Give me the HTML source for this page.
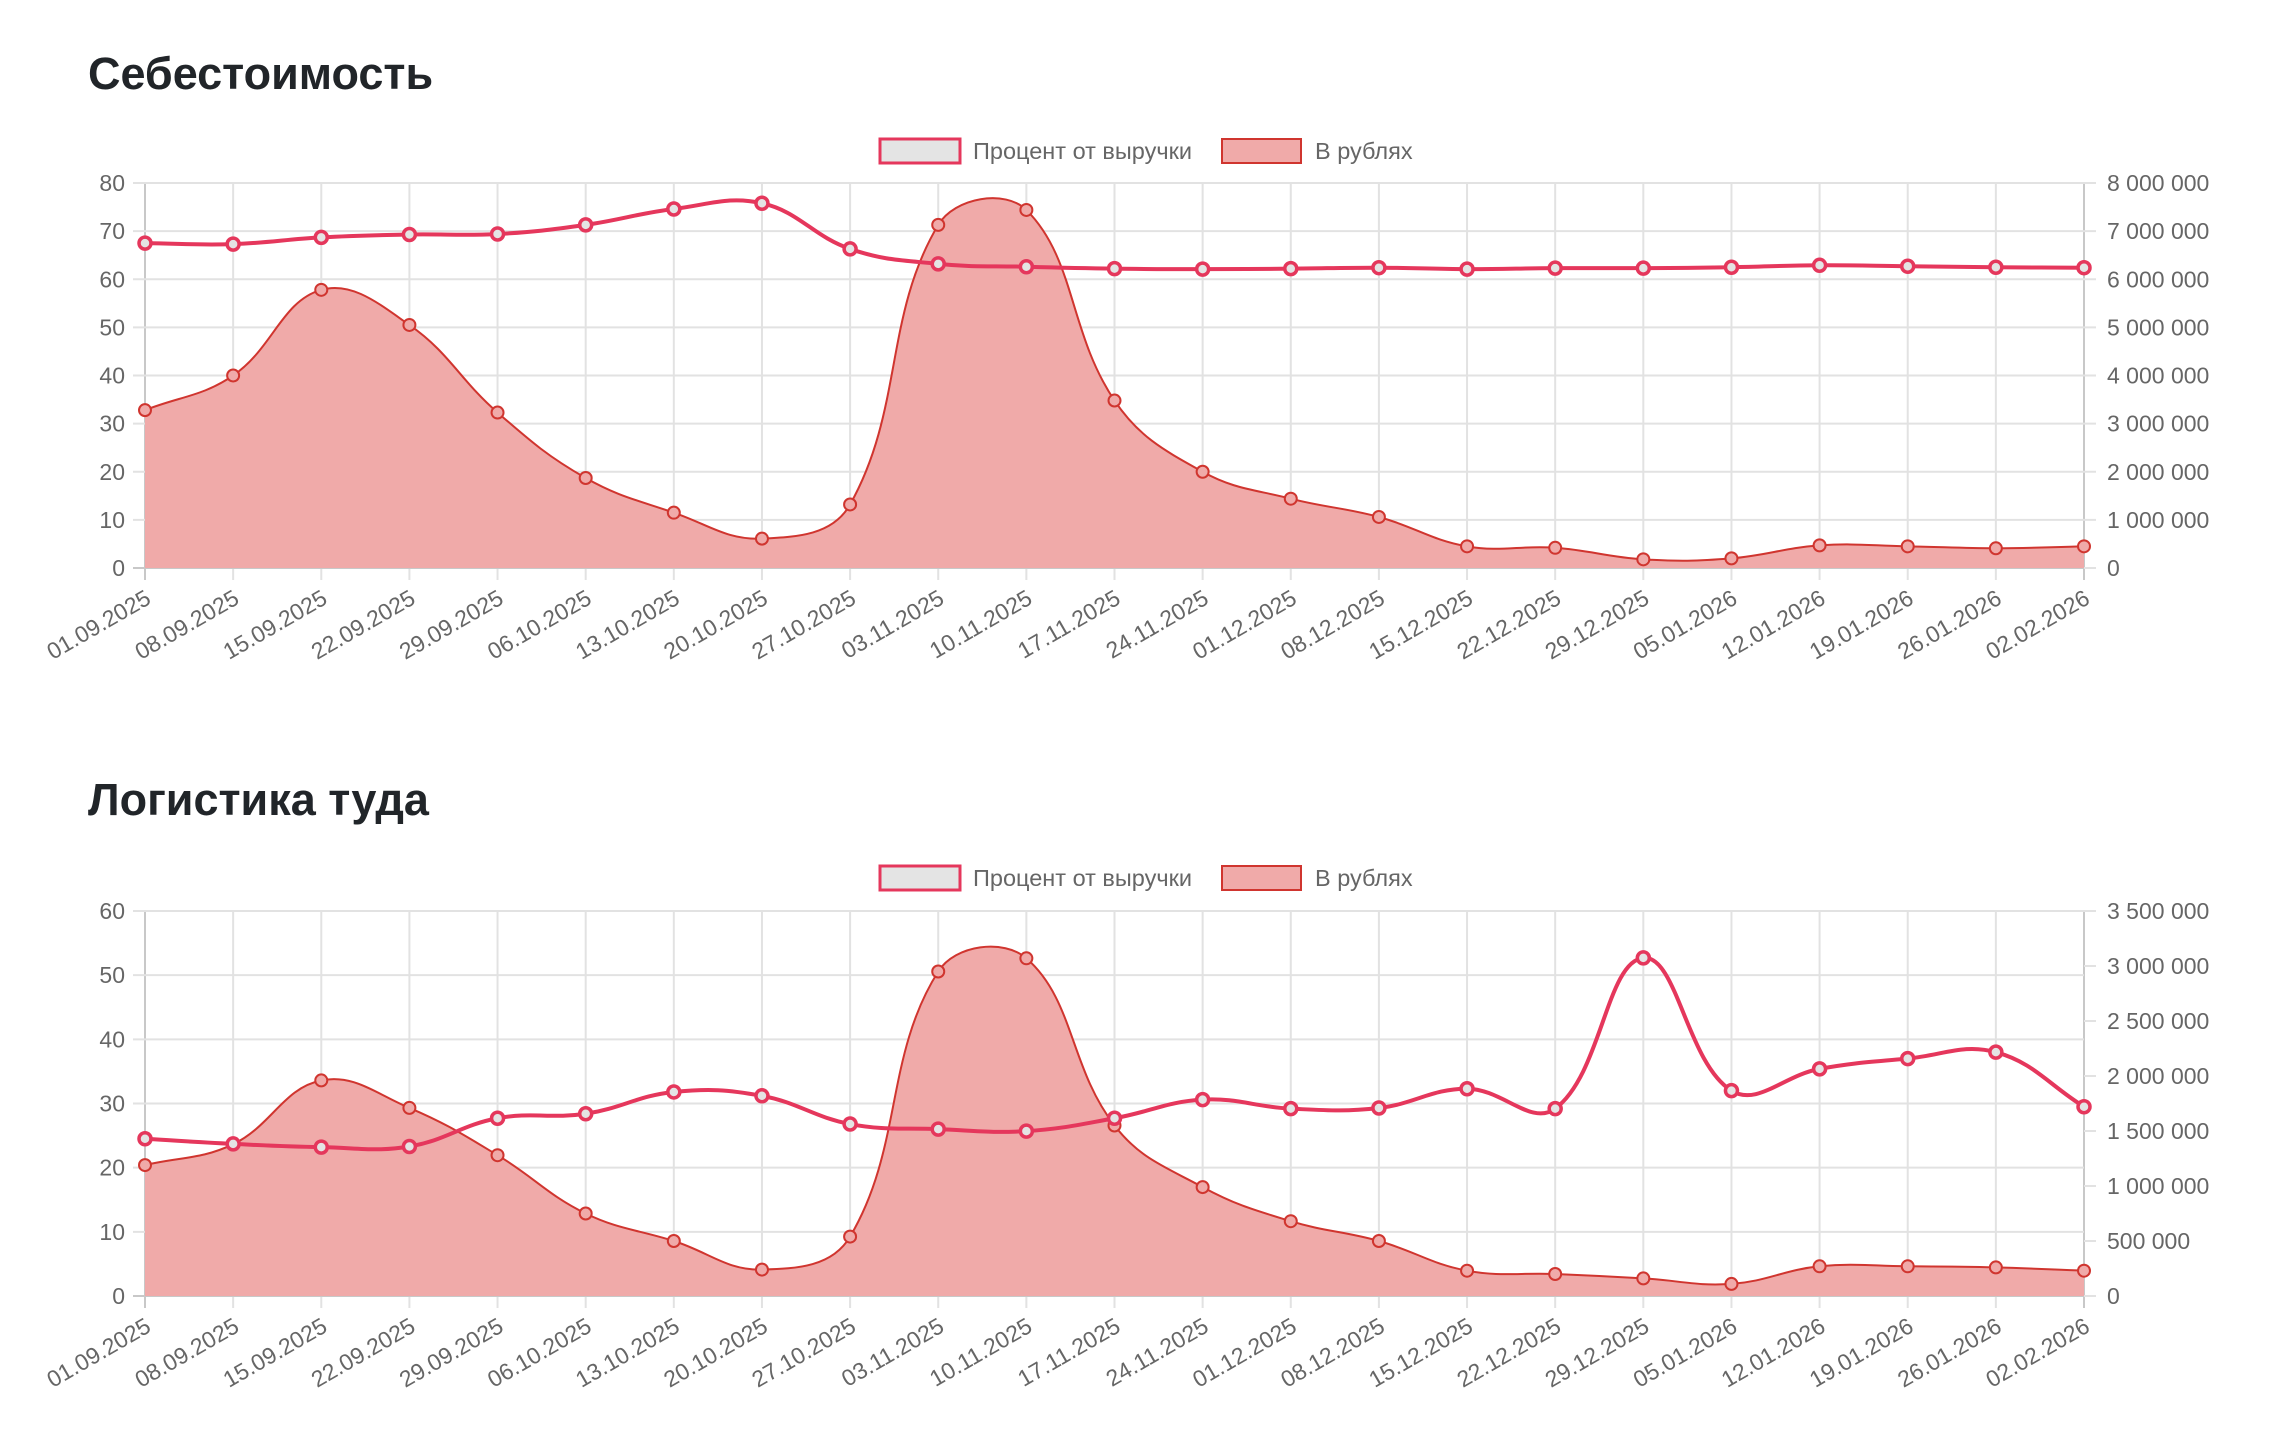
<!DOCTYPE html>
<html><head><meta charset="utf-8">
<style>
html,body{margin:0;padding:0;background:#fff;}
body{width:2280px;height:1444px;overflow:hidden;position:relative;font-family:"Liberation Sans",Arial,sans-serif;}
h2{position:absolute;left:88px;margin:0;font-weight:600;font-size:45px;color:#212529;line-height:1;}
svg{position:absolute;left:0;top:0;}
</style></head>
<body>
<h2 style="top:51px">Себестоимость</h2>
<h2 style="top:777px">Логистика туда</h2>
<svg id="s" width="2280" height="1444" xmlns="http://www.w3.org/2000/svg"></svg>
<script>
const dates=["01.09.2025","08.09.2025","15.09.2025","22.09.2025","29.09.2025","06.10.2025","13.10.2025","20.10.2025","27.10.2025","03.11.2025","10.11.2025","17.11.2025","24.11.2025","01.12.2025","08.12.2025","15.12.2025","22.12.2025","29.12.2025","05.01.2026","12.01.2026","19.01.2026","26.01.2026","02.02.2026"];
const L=145,R=2084,step=(R-L)/22;
const svg=document.getElementById('s');
let out='';
function spline(pts,top,bot){
  let d='M'+pts[0][0]+','+pts[0][1];
  const cps=pts.map((p,i)=>{
    const pr=pts[Math.max(i-1,0)],nx=pts[Math.min(i+1,pts.length-1)];
    const d01=Math.hypot(p[0]-pr[0],p[1]-pr[1]),d12=Math.hypot(nx[0]-p[0],nx[1]-p[1]);
    let fa=d01/(d01+d12)||0,fb=d12/(d01+d12)||0;fa*=0.4;fb*=0.4;
    const c=(v)=>Math.max(top,Math.min(bot,v));
    return {p:[p[0]-fa*(nx[0]-pr[0]),c(p[1]-fa*(nx[1]-pr[1]))],n:[p[0]+fb*(nx[0]-pr[0]),c(p[1]+fb*(nx[1]-pr[1]))]};
  });
  for(let i=1;i<pts.length;i++){
    d+=' C'+cps[i-1].n.join(',')+' '+cps[i].p.join(',')+' '+pts[i].join(',');
  }
  return d;
}
function chart(top,bot,lticks,lmax,rticks,rmax,pct,rub,legY){
  for(let i=0;i<23;i++){const x=L+i*step;out+=`<line x1="${x}" y1="${top}" x2="${x}" y2="${bot+12}" stroke="${i==0||i==22?'#c8c8c8':'#e2e2e2'}" stroke-width="2"/>`;
    out+=`<text transform="translate(${x-1},${bot+20}) rotate(-30)" text-anchor="end" dominant-baseline="hanging" font-size="23" fill="#666">${dates[i]}</text>`;}
  lticks.forEach((v,i)=>{const y=bot-(v/lmax)*(bot-top);out+=`<line x1="${L-12}" y1="${y}" x2="${R}" y2="${y}" stroke="${v==0?'#c8c8c8':'#e2e2e2'}" stroke-width="2"/>`;
    out+=`<text x="${L-20}" y="${y}" text-anchor="end" dominant-baseline="central" font-size="23" fill="#666">${v}</text>`;});
  rticks.forEach(v=>{const y=bot-(v/rmax)*(bot-top);out+=`<line x1="${R}" y1="${y}" x2="${R+12}" y2="${y}" stroke="#e2e2e2" stroke-width="2"/>`;
    out+=`<text x="${R+23}" y="${y}" dominant-baseline="central" font-size="23" fill="#666">${v.toLocaleString('ru-RU').replace(/\s/g,' ')}</text>`;});
  const rp=rub.map((v,i)=>[L+i*step,bot-(v/rmax)*(bot-top)]);
  const d=spline(rp,top,bot);
  out+=`<path d="${d} L${R},${bot} L${L},${bot} Z" fill="#f0aaa9"/>`;
  out+=`<path d="${d}" fill="none" stroke="#d0352f" stroke-width="2"/>`;
  rp.forEach(p=>out+=`<circle cx="${p[0]}" cy="${p[1]}" r="6" fill="#f0aaa9" stroke="#d0352f" stroke-width="2"/>`);
  const pp=pct.map((v,i)=>[L+i*step,bot-(v/lmax)*(bot-top)]);
  out+=`<path d="${spline(pp,top,bot)}" fill="none" stroke="#e5375c" stroke-width="4"/>`;
  pp.forEach(p=>out+=`<circle cx="${p[0]}" cy="${p[1]}" r="6" fill="#e4e4e4" stroke="#e5375c" stroke-width="3.5"/>`);
  out+=`<rect x="880" y="${legY}" width="80" height="24" fill="#e4e4e4" stroke="#e5375c" stroke-width="3"/>`;
  out+=`<text x="973" y="${legY+12}" dominant-baseline="central" font-size="23.5" fill="#666">Процент от выручки</text>`;
  out+=`<rect x="1222" y="${legY}" width="79" height="24" fill="#f0aaa9" stroke="#d0352f" stroke-width="2"/>`;
  out+=`<text x="1315" y="${legY+12}" dominant-baseline="central" font-size="23.5" fill="#666">В рублях</text>`;
}
chart(183,568,[0,10,20,30,40,50,60,70,80],80,[0,1e6,2e6,3e6,4e6,5e6,6e6,7e6,8e6],8e6,
 [67.5,67.3,68.7,69.3,69.4,71.3,74.6,75.8,66.3,63.2,62.6,62.2,62.1,62.2,62.4,62.1,62.3,62.3,62.5,62.9,62.7,62.5,62.4],
 [32.8,40,57.8,50.5,32.3,18.7,11.5,6.1,13.2,71.3,74.4,34.8,20,14.4,10.6,4.5,4.2,1.8,2.0,4.7,4.5,4.1,4.5].map(v=>v*1e5),139);
chart(911,1296,[0,10,20,30,40,50,60],60,[0,5e5,1e6,1.5e6,2e6,2.5e6,3e6,3.5e6],3.5e6,
 [24.5,23.7,23.2,23.3,27.7,28.4,31.8,31.2,26.8,26,25.7,27.7,30.6,29.2,29.3,32.3,29.2,52.7,32,35.4,37,38,29.5],
 [1.19,1.38,1.96,1.71,1.28,0.75,0.5,0.24,0.54,2.95,3.07,1.55,0.99,0.68,0.5,0.23,0.2,0.16,0.11,0.27,0.27,0.26,0.23].map(v=>v*1e6),866);
svg.innerHTML=out;
</script>
</body></html>
